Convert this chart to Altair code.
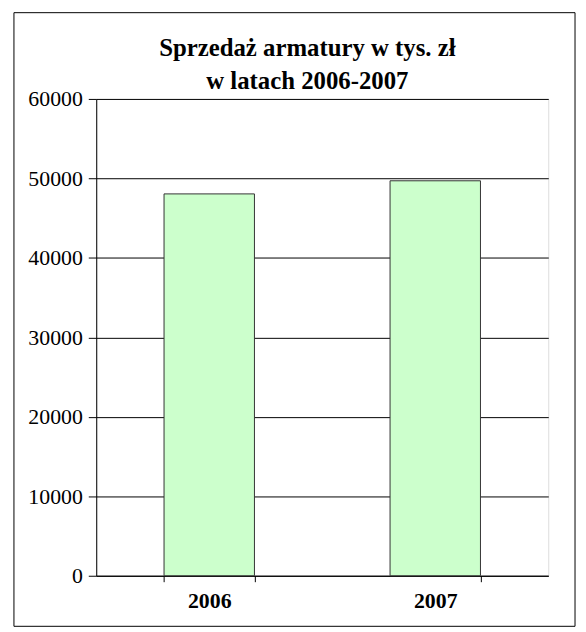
import altair as alt
import pandas as pd

years = ["2006", "2007"]
sales = [48050, 49700]
title_lines = ["Sprzedaż armatury w tys. zł", "w latach 2006-2007"]

df = pd.DataFrame({"rok": years, "sprzedaz": sales})

W, H = 456, 481
PL, PT, PR, PB = 89, 89, 30, 52

frame = alt.Chart(pd.DataFrame({"a": [0]})).mark_rect(
    fill=None, stroke="black", strokeWidth=1, clip=False
).encode(
    x=alt.value(-PL + 6), x2=alt.value(W + PR - 3),
    y=alt.value(-PT + 2), y2=alt.value(H + PB - 1),
)

title1 = alt.Chart(pd.DataFrame({"t": [title_lines[0]]})).mark_text(
    font="Liberation Serif", fontSize=25, fontWeight="bold", color="black",
    align="center", baseline="alphabetic", clip=False
).encode(text="t:N", x=alt.value(213), y=alt.value(-43))

title2 = alt.Chart(pd.DataFrame({"t": [title_lines[1]]})).mark_text(
    font="Liberation Serif", fontSize=25, fontWeight="bold", color="black",
    align="center", baseline="alphabetic", clip=False
).encode(text="t:N", x=alt.value(213), y=alt.value(-10))

bars = alt.Chart(df).mark_bar(
    fill="#CCFFCC", stroke="#333333", strokeWidth=1
).encode(
    x=alt.X("rok:N", title=None,
            scale=alt.Scale(paddingInner=0.6, paddingOuter=0.3),
            axis=alt.Axis(labelAngle=0, labelFont="Liberation Serif",
                          labelFontSize=22, labelFontWeight="bold",
                          labelColor="black", labelPadding=9,
                          tickBand="extent", tickColor="black", tickSize=6,
                          domainColor="black", grid=False)),
    y=alt.Y("sprzedaz:Q", title=None,
            scale=alt.Scale(domain=[0, 60000], nice=False),
            axis=alt.Axis(values=[0, 10000, 20000, 30000, 40000, 50000, 60000],
                          format="d", labelFont="Liberation Serif",
                          labelFontSize=22, labelColor="black",
                          labelPadding=6, tickColor="black", tickSize=8,
                          domainColor="black", gridColor="black",
                          gridWidth=1)),
)

chart = alt.layer(frame, bars, title1, title2).properties(
    width=W, height=H,
    autosize=alt.AutoSizeParams(type="none"),
    padding={"left": PL, "top": PT, "right": PR, "bottom": PB},
).configure_view(stroke="#808080", strokeWidth=1).configure(background="white")

chart.save("out.html", embed_options={"renderer": "svg", "actions": False})
